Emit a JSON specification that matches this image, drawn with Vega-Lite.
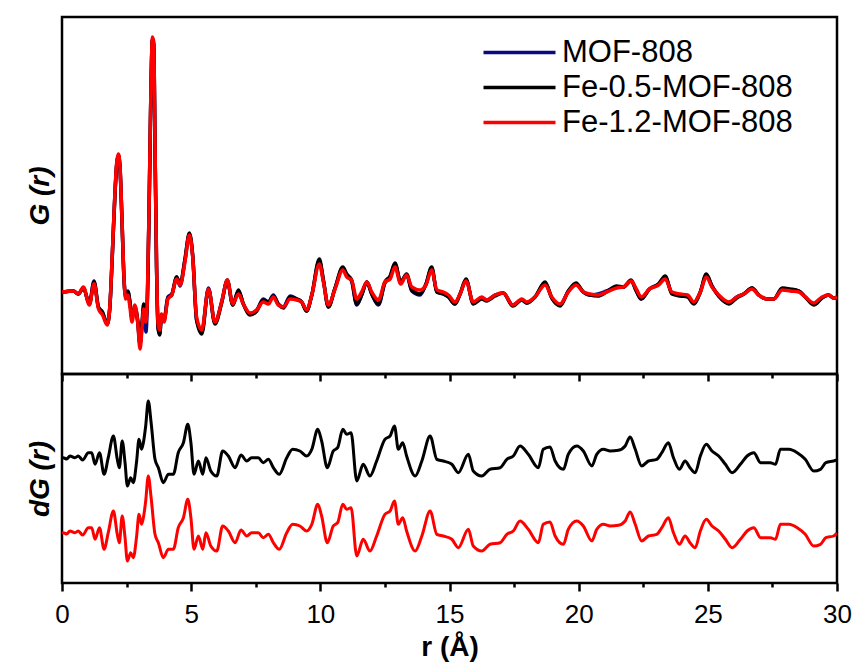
{
"$schema": "https://vega.github.io/schema/vega-lite/v6.json",
"autosize": {"type": "pad"},
"padding": {"left": 24, "top": 15, "right": 15, "bottom": 0},
"background": "white",
"spacing": 0,
"bounds": "flush",
"resolve": {"scale": {"color": "independent", "y": "independent"}},
"config": {
  "view": {"stroke": "black", "strokeWidth": 2.5},
  "font": "Liberation Sans",
  "axis": {"grid": false, "domain": false, "tickColor": "black", "tickWidth": 2.5, "labelColor": "black", "titleColor": "black", "labelFont": "Liberation Sans", "titleFont": "Liberation Sans"},
  "legend": {"labelFont": "Liberation Sans", "labelColor": "black"}
},
"datasets": {
"top": [
{"s":"MOF-808","r":0,"g":0},{"s":"MOF-808","r":0.2,"g":0.05},{"s":"MOF-808","r":0.44,"g":0.1},{"s":"MOF-808","r":0.63,"g":-0.2},{"s":"MOF-808","r":0.83,"g":0.4},{"s":"MOF-808","r":1.06,"g":-1.2},{"s":"MOF-808","r":1.24,"g":1.1},{"s":"MOF-808","r":1.41,"g":-1.5},{"s":"MOF-808","r":1.57,"g":-2.1},{"s":"MOF-808","r":1.75,"g":-3.2},{"s":"MOF-808","r":1.85,"g":-1.6},{"s":"MOF-808","r":1.95,"g":3.8},{"s":"MOF-808","r":2.05,"g":9.8},{"s":"MOF-808","r":2.12,"g":12.8},{"s":"MOF-808","r":2.18,"g":13.6},{"s":"MOF-808","r":2.24,"g":12.6},{"s":"MOF-808","r":2.32,"g":7.3},{"s":"MOF-808","r":2.4,"g":1.3},{"s":"MOF-808","r":2.46,"g":-0.3},{"s":"MOF-808","r":2.55,"g":0.1},{"s":"MOF-808","r":2.63,"g":-1.0},{"s":"MOF-808","r":2.71,"g":-2.6},{"s":"MOF-808","r":2.82,"g":-1.6},{"s":"MOF-808","r":2.93,"g":-3.0},{"s":"MOF-808","r":3.02,"g":-5.2},{"s":"MOF-808","r":3.1,"g":-3.2},{"s":"MOF-808","r":3.16,"g":-1.6},{"s":"MOF-808","r":3.25,"g":-4.0},{"s":"MOF-808","r":3.3,"g":-1.5},{"s":"MOF-808","r":3.38,"g":9.6},{"s":"MOF-808","r":3.44,"g":19.6},{"s":"MOF-808","r":3.5,"g":25.2},{"s":"MOF-808","r":3.55,"g":24.7},{"s":"MOF-808","r":3.6,"g":14.6},{"s":"MOF-808","r":3.66,"g":2.5},{"s":"MOF-808","r":3.72,"g":-3.6},{"s":"MOF-808","r":3.78,"g":-4.2},{"s":"MOF-808","r":3.85,"g":-2.5},{"s":"MOF-808","r":3.95,"g":-2.7},{"s":"MOF-808","r":4.1,"g":-0.5},{"s":"MOF-808","r":4.25,"g":-0.2},{"s":"MOF-808","r":4.44,"g":1.5},{"s":"MOF-808","r":4.57,"g":0.6},{"s":"MOF-808","r":4.76,"g":3.2},{"s":"MOF-808","r":4.93,"g":5.8},{"s":"MOF-808","r":5.06,"g":3.6},{"s":"MOF-808","r":5.21,"g":-2.8},{"s":"MOF-808","r":5.41,"g":-4.0},{"s":"MOF-808","r":5.67,"g":0.4},{"s":"MOF-808","r":5.92,"g":-3.1},{"s":"MOF-808","r":6.18,"g":-1.0},{"s":"MOF-808","r":6.4,"g":1.1},{"s":"MOF-808","r":6.61,"g":-1.3},{"s":"MOF-808","r":6.83,"g":0.1},{"s":"MOF-808","r":7.02,"g":-1.2},{"s":"MOF-808","r":7.28,"g":-2.2},{"s":"MOF-808","r":7.54,"g":-1.8},{"s":"MOF-808","r":7.79,"g":-0.7},{"s":"MOF-808","r":7.99,"g":-1.0},{"s":"MOF-808","r":8.18,"g":-0.3},{"s":"MOF-808","r":8.37,"g":-1.2},{"s":"MOF-808","r":8.57,"g":-1.5},{"s":"MOF-808","r":8.83,"g":-0.4},{"s":"MOF-808","r":9.09,"g":-0.7},{"s":"MOF-808","r":9.28,"g":-1.0},{"s":"MOF-808","r":9.47,"g":-1.9},{"s":"MOF-808","r":9.67,"g":-0.3},{"s":"MOF-808","r":9.96,"g":3.1},{"s":"MOF-808","r":10.12,"g":1.1},{"s":"MOF-808","r":10.31,"g":-1.5},{"s":"MOF-808","r":10.57,"g":0.4},{"s":"MOF-808","r":10.87,"g":2.4},{"s":"MOF-808","r":11.02,"g":1.7},{"s":"MOF-808","r":11.21,"g":1.1},{"s":"MOF-808","r":11.41,"g":-1.3},{"s":"MOF-808","r":11.6,"g":-0.3},{"s":"MOF-808","r":11.8,"g":1.0},{"s":"MOF-808","r":11.99,"g":-0.2},{"s":"MOF-808","r":12.25,"g":-1.3},{"s":"MOF-808","r":12.5,"g":0.9},{"s":"MOF-808","r":12.7,"g":1.5},{"s":"MOF-808","r":12.89,"g":2.8},{"s":"MOF-808","r":13.11,"g":1.0},{"s":"MOF-808","r":13.34,"g":1.7},{"s":"MOF-808","r":13.54,"g":0.1},{"s":"MOF-808","r":13.86,"g":-0.3},{"s":"MOF-808","r":14.09,"g":0.8},{"s":"MOF-808","r":14.31,"g":2.4},{"s":"MOF-808","r":14.51,"g":0.0},{"s":"MOF-808","r":14.76,"g":-0.2},{"s":"MOF-808","r":14.96,"g":-0.5},{"s":"MOF-808","r":15.21,"g":-1.2},{"s":"MOF-808","r":15.41,"g":-0.2},{"s":"MOF-808","r":15.64,"g":1.2},{"s":"MOF-808","r":15.92,"g":-1.1},{"s":"MOF-808","r":16.25,"g":-0.6},{"s":"MOF-808","r":16.44,"g":-0.8},{"s":"MOF-808","r":16.76,"g":-0.3},{"s":"MOF-808","r":17.08,"g":-0.1},{"s":"MOF-808","r":17.45,"g":-1.3},{"s":"MOF-808","r":17.8,"g":-0.8},{"s":"MOF-808","r":17.99,"g":-1.1},{"s":"MOF-808","r":18.31,"g":-0.5},{"s":"MOF-808","r":18.7,"g":0.9},{"s":"MOF-808","r":18.96,"g":-0.6},{"s":"MOF-808","r":19.28,"g":-1.3},{"s":"MOF-808","r":19.6,"g":0.1},{"s":"MOF-808","r":19.9,"g":0.8},{"s":"MOF-808","r":20.18,"g":0.0},{"s":"MOF-808","r":20.44,"g":-0.3},{"s":"MOF-808","r":20.75,"g":-0.2},{"s":"MOF-808","r":21.08,"g":0.1},{"s":"MOF-808","r":21.47,"g":0.5},{"s":"MOF-808","r":21.73,"g":0.5},{"s":"MOF-808","r":22.03,"g":1.1},{"s":"MOF-808","r":22.23,"g":0.1},{"s":"MOF-808","r":22.42,"g":-0.7},{"s":"MOF-808","r":22.74,"g":0.3},{"s":"MOF-808","r":23.09,"g":0.8},{"s":"MOF-808","r":23.35,"g":1.5},{"s":"MOF-808","r":23.61,"g":-0.1},{"s":"MOF-808","r":23.93,"g":-0.3},{"s":"MOF-808","r":24.22,"g":-0.4},{"s":"MOF-808","r":24.45,"g":-1.1},{"s":"MOF-808","r":24.71,"g":0.0},{"s":"MOF-808","r":24.94,"g":1.7},{"s":"MOF-808","r":25.16,"g":0.6},{"s":"MOF-808","r":25.42,"g":-0.4},{"s":"MOF-808","r":25.81,"g":-1.1},{"s":"MOF-808","r":26.12,"g":-0.5},{"s":"MOF-808","r":26.39,"g":-0.2},{"s":"MOF-808","r":26.71,"g":0.4},{"s":"MOF-808","r":26.97,"g":-0.3},{"s":"MOF-808","r":27.29,"g":-0.7},{"s":"MOF-808","r":27.55,"g":-0.7},{"s":"MOF-808","r":27.88,"g":0.3},{"s":"MOF-808","r":28.19,"g":0.2},{"s":"MOF-808","r":28.52,"g":0.1},{"s":"MOF-808","r":28.77,"g":-0.5},{"s":"MOF-808","r":29.1,"g":-1.2},{"s":"MOF-808","r":29.42,"g":-0.6},{"s":"MOF-808","r":29.67,"g":-0.3},{"s":"MOF-808","r":29.87,"g":-0.6},{"s":"MOF-808","r":30,"g":-0.5},

{"s":"Fe-0.5-MOF-808","r":0,"g":0},{"s":"Fe-0.5-MOF-808","r":0.2,"g":0.05},{"s":"Fe-0.5-MOF-808","r":0.44,"g":0.1},{"s":"Fe-0.5-MOF-808","r":0.63,"g":-0.2},{"s":"Fe-0.5-MOF-808","r":0.83,"g":0.4},{"s":"Fe-0.5-MOF-808","r":1.06,"g":-1.2},{"s":"Fe-0.5-MOF-808","r":1.24,"g":1.0},{"s":"Fe-0.5-MOF-808","r":1.41,"g":-1.5},{"s":"Fe-0.5-MOF-808","r":1.57,"g":-2.0},{"s":"Fe-0.5-MOF-808","r":1.75,"g":-3.2},{"s":"Fe-0.5-MOF-808","r":1.85,"g":-1.6},{"s":"Fe-0.5-MOF-808","r":1.95,"g":3.8},{"s":"Fe-0.5-MOF-808","r":2.05,"g":9.8},{"s":"Fe-0.5-MOF-808","r":2.12,"g":12.8},{"s":"Fe-0.5-MOF-808","r":2.18,"g":13.7},{"s":"Fe-0.5-MOF-808","r":2.24,"g":12.7},{"s":"Fe-0.5-MOF-808","r":2.32,"g":7.3},{"s":"Fe-0.5-MOF-808","r":2.4,"g":1.3},{"s":"Fe-0.5-MOF-808","r":2.46,"g":-0.5},{"s":"Fe-0.5-MOF-808","r":2.55,"g":0.0},{"s":"Fe-0.5-MOF-808","r":2.63,"g":-1.0},{"s":"Fe-0.5-MOF-808","r":2.71,"g":-2.6},{"s":"Fe-0.5-MOF-808","r":2.82,"g":-1.5},{"s":"Fe-0.5-MOF-808","r":2.93,"g":-2.8},{"s":"Fe-0.5-MOF-808","r":3.02,"g":-5.2},{"s":"Fe-0.5-MOF-808","r":3.1,"g":-3.0},{"s":"Fe-0.5-MOF-808","r":3.16,"g":-1.2},{"s":"Fe-0.5-MOF-808","r":3.25,"g":-2.5},{"s":"Fe-0.5-MOF-808","r":3.3,"g":-1.0},{"s":"Fe-0.5-MOF-808","r":3.38,"g":9.8},{"s":"Fe-0.5-MOF-808","r":3.44,"g":19.8},{"s":"Fe-0.5-MOF-808","r":3.5,"g":25.3},{"s":"Fe-0.5-MOF-808","r":3.55,"g":24.8},{"s":"Fe-0.5-MOF-808","r":3.6,"g":14.8},{"s":"Fe-0.5-MOF-808","r":3.66,"g":2.5},{"s":"Fe-0.5-MOF-808","r":3.72,"g":-3.6},{"s":"Fe-0.5-MOF-808","r":3.78,"g":-4.3},{"s":"Fe-0.5-MOF-808","r":3.85,"g":-2.6},{"s":"Fe-0.5-MOF-808","r":3.95,"g":-2.8},{"s":"Fe-0.5-MOF-808","r":4.1,"g":-0.6},{"s":"Fe-0.5-MOF-808","r":4.25,"g":-0.3},{"s":"Fe-0.5-MOF-808","r":4.44,"g":1.5},{"s":"Fe-0.5-MOF-808","r":4.57,"g":0.8},{"s":"Fe-0.5-MOF-808","r":4.76,"g":3.3},{"s":"Fe-0.5-MOF-808","r":4.93,"g":5.9},{"s":"Fe-0.5-MOF-808","r":5.06,"g":3.6},{"s":"Fe-0.5-MOF-808","r":5.21,"g":-2.8},{"s":"Fe-0.5-MOF-808","r":5.41,"g":-4.2},{"s":"Fe-0.5-MOF-808","r":5.67,"g":0.3},{"s":"Fe-0.5-MOF-808","r":5.92,"g":-3.2},{"s":"Fe-0.5-MOF-808","r":6.18,"g":-1.1},{"s":"Fe-0.5-MOF-808","r":6.4,"g":1.2},{"s":"Fe-0.5-MOF-808","r":6.61,"g":-1.3},{"s":"Fe-0.5-MOF-808","r":6.83,"g":0.2},{"s":"Fe-0.5-MOF-808","r":7.02,"g":-1.2},{"s":"Fe-0.5-MOF-808","r":7.28,"g":-2.3},{"s":"Fe-0.5-MOF-808","r":7.54,"g":-1.9},{"s":"Fe-0.5-MOF-808","r":7.79,"g":-0.8},{"s":"Fe-0.5-MOF-808","r":7.99,"g":-1.0},{"s":"Fe-0.5-MOF-808","r":8.18,"g":-0.4},{"s":"Fe-0.5-MOF-808","r":8.37,"g":-1.2},{"s":"Fe-0.5-MOF-808","r":8.57,"g":-1.6},{"s":"Fe-0.5-MOF-808","r":8.83,"g":-0.5},{"s":"Fe-0.5-MOF-808","r":9.09,"g":-0.7},{"s":"Fe-0.5-MOF-808","r":9.28,"g":-1.0},{"s":"Fe-0.5-MOF-808","r":9.47,"g":-1.9},{"s":"Fe-0.5-MOF-808","r":9.67,"g":-0.3},{"s":"Fe-0.5-MOF-808","r":9.96,"g":3.3},{"s":"Fe-0.5-MOF-808","r":10.12,"g":1.2},{"s":"Fe-0.5-MOF-808","r":10.31,"g":-1.5},{"s":"Fe-0.5-MOF-808","r":10.57,"g":0.4},{"s":"Fe-0.5-MOF-808","r":10.87,"g":2.5},{"s":"Fe-0.5-MOF-808","r":11.02,"g":1.8},{"s":"Fe-0.5-MOF-808","r":11.21,"g":1.2},{"s":"Fe-0.5-MOF-808","r":11.41,"g":-1.2},{"s":"Fe-0.5-MOF-808","r":11.6,"g":-0.3},{"s":"Fe-0.5-MOF-808","r":11.8,"g":1.0},{"s":"Fe-0.5-MOF-808","r":11.99,"g":-0.2},{"s":"Fe-0.5-MOF-808","r":12.25,"g":-1.2},{"s":"Fe-0.5-MOF-808","r":12.5,"g":1.0},{"s":"Fe-0.5-MOF-808","r":12.7,"g":1.6},{"s":"Fe-0.5-MOF-808","r":12.89,"g":2.9},{"s":"Fe-0.5-MOF-808","r":13.11,"g":1.0},{"s":"Fe-0.5-MOF-808","r":13.34,"g":1.8},{"s":"Fe-0.5-MOF-808","r":13.54,"g":0.2},{"s":"Fe-0.5-MOF-808","r":13.86,"g":-0.2},{"s":"Fe-0.5-MOF-808","r":14.09,"g":0.8},{"s":"Fe-0.5-MOF-808","r":14.31,"g":2.5},{"s":"Fe-0.5-MOF-808","r":14.51,"g":0.0},{"s":"Fe-0.5-MOF-808","r":14.76,"g":-0.2},{"s":"Fe-0.5-MOF-808","r":14.96,"g":-0.5},{"s":"Fe-0.5-MOF-808","r":15.21,"g":-1.2},{"s":"Fe-0.5-MOF-808","r":15.41,"g":-0.2},{"s":"Fe-0.5-MOF-808","r":15.64,"g":1.3},{"s":"Fe-0.5-MOF-808","r":15.92,"g":-1.2},{"s":"Fe-0.5-MOF-808","r":16.25,"g":-0.7},{"s":"Fe-0.5-MOF-808","r":16.44,"g":-0.9},{"s":"Fe-0.5-MOF-808","r":16.76,"g":-0.4},{"s":"Fe-0.5-MOF-808","r":17.08,"g":-0.1},{"s":"Fe-0.5-MOF-808","r":17.45,"g":-1.4},{"s":"Fe-0.5-MOF-808","r":17.8,"g":-0.8},{"s":"Fe-0.5-MOF-808","r":17.99,"g":-1.1},{"s":"Fe-0.5-MOF-808","r":18.31,"g":-0.5},{"s":"Fe-0.5-MOF-808","r":18.7,"g":1.0},{"s":"Fe-0.5-MOF-808","r":18.96,"g":-0.6},{"s":"Fe-0.5-MOF-808","r":19.28,"g":-1.4},{"s":"Fe-0.5-MOF-808","r":19.6,"g":0.1},{"s":"Fe-0.5-MOF-808","r":19.9,"g":0.9},{"s":"Fe-0.5-MOF-808","r":20.18,"g":0.0},{"s":"Fe-0.5-MOF-808","r":20.44,"g":-0.3},{"s":"Fe-0.5-MOF-808","r":20.75,"g":-0.4},{"s":"Fe-0.5-MOF-808","r":21.08,"g":0.0},{"s":"Fe-0.5-MOF-808","r":21.47,"g":0.6},{"s":"Fe-0.5-MOF-808","r":21.73,"g":0.5},{"s":"Fe-0.5-MOF-808","r":22.03,"g":1.2},{"s":"Fe-0.5-MOF-808","r":22.23,"g":0.1},{"s":"Fe-0.5-MOF-808","r":22.42,"g":-0.7},{"s":"Fe-0.5-MOF-808","r":22.74,"g":0.3},{"s":"Fe-0.5-MOF-808","r":23.09,"g":0.8},{"s":"Fe-0.5-MOF-808","r":23.35,"g":1.6},{"s":"Fe-0.5-MOF-808","r":23.61,"g":-0.2},{"s":"Fe-0.5-MOF-808","r":23.93,"g":-0.4},{"s":"Fe-0.5-MOF-808","r":24.22,"g":-0.5},{"s":"Fe-0.5-MOF-808","r":24.45,"g":-1.2},{"s":"Fe-0.5-MOF-808","r":24.71,"g":0.0},{"s":"Fe-0.5-MOF-808","r":24.94,"g":1.8},{"s":"Fe-0.5-MOF-808","r":25.16,"g":0.6},{"s":"Fe-0.5-MOF-808","r":25.42,"g":-0.4},{"s":"Fe-0.5-MOF-808","r":25.81,"g":-1.2},{"s":"Fe-0.5-MOF-808","r":26.12,"g":-0.6},{"s":"Fe-0.5-MOF-808","r":26.39,"g":-0.2},{"s":"Fe-0.5-MOF-808","r":26.71,"g":0.4},{"s":"Fe-0.5-MOF-808","r":26.97,"g":-0.3},{"s":"Fe-0.5-MOF-808","r":27.29,"g":-0.7},{"s":"Fe-0.5-MOF-808","r":27.55,"g":-0.7},{"s":"Fe-0.5-MOF-808","r":27.88,"g":0.4},{"s":"Fe-0.5-MOF-808","r":28.19,"g":0.3},{"s":"Fe-0.5-MOF-808","r":28.52,"g":0.1},{"s":"Fe-0.5-MOF-808","r":28.77,"g":-0.5},{"s":"Fe-0.5-MOF-808","r":29.1,"g":-1.3},{"s":"Fe-0.5-MOF-808","r":29.42,"g":-0.6},{"s":"Fe-0.5-MOF-808","r":29.67,"g":-0.3},{"s":"Fe-0.5-MOF-808","r":29.87,"g":-0.6},{"s":"Fe-0.5-MOF-808","r":30,"g":-0.5},

{"s":"Fe-1.2-MOF-808","r":0,"g":0},{"s":"Fe-1.2-MOF-808","r":0.2,"g":0.05},{"s":"Fe-1.2-MOF-808","r":0.44,"g":0.1},{"s":"Fe-1.2-MOF-808","r":0.63,"g":-0.17},{"s":"Fe-1.2-MOF-808","r":0.83,"g":0.5},{"s":"Fe-1.2-MOF-808","r":1.06,"g":-1.3},{"s":"Fe-1.2-MOF-808","r":1.24,"g":0.83},{"s":"Fe-1.2-MOF-808","r":1.41,"g":-1.67},{"s":"Fe-1.2-MOF-808","r":1.57,"g":-2.3},{"s":"Fe-1.2-MOF-808","r":1.75,"g":-3.3},{"s":"Fe-1.2-MOF-808","r":1.85,"g":-1.5},{"s":"Fe-1.2-MOF-808","r":1.95,"g":4.0},{"s":"Fe-1.2-MOF-808","r":2.05,"g":10.0},{"s":"Fe-1.2-MOF-808","r":2.12,"g":13.0},{"s":"Fe-1.2-MOF-808","r":2.18,"g":13.8},{"s":"Fe-1.2-MOF-808","r":2.24,"g":12.8},{"s":"Fe-1.2-MOF-808","r":2.32,"g":7.5},{"s":"Fe-1.2-MOF-808","r":2.4,"g":1.5},{"s":"Fe-1.2-MOF-808","r":2.46,"g":-0.7},{"s":"Fe-1.2-MOF-808","r":2.55,"g":-0.3},{"s":"Fe-1.2-MOF-808","r":2.63,"g":-1.5},{"s":"Fe-1.2-MOF-808","r":2.71,"g":-3.0},{"s":"Fe-1.2-MOF-808","r":2.82,"g":-1.3},{"s":"Fe-1.2-MOF-808","r":2.93,"g":-3.0},{"s":"Fe-1.2-MOF-808","r":3.02,"g":-5.7},{"s":"Fe-1.2-MOF-808","r":3.1,"g":-3.5},{"s":"Fe-1.2-MOF-808","r":3.16,"g":-1.7},{"s":"Fe-1.2-MOF-808","r":3.25,"g":-3.0},{"s":"Fe-1.2-MOF-808","r":3.3,"g":-1.0},{"s":"Fe-1.2-MOF-808","r":3.38,"g":10.0},{"s":"Fe-1.2-MOF-808","r":3.44,"g":20.0},{"s":"Fe-1.2-MOF-808","r":3.5,"g":25.5},{"s":"Fe-1.2-MOF-808","r":3.55,"g":25.0},{"s":"Fe-1.2-MOF-808","r":3.6,"g":15.0},{"s":"Fe-1.2-MOF-808","r":3.66,"g":3.0},{"s":"Fe-1.2-MOF-808","r":3.72,"g":-3.2},{"s":"Fe-1.2-MOF-808","r":3.78,"g":-3.8},{"s":"Fe-1.2-MOF-808","r":3.85,"g":-2.2},{"s":"Fe-1.2-MOF-808","r":3.95,"g":-3.0},{"s":"Fe-1.2-MOF-808","r":4.1,"g":-0.7},{"s":"Fe-1.2-MOF-808","r":4.25,"g":-0.3},{"s":"Fe-1.2-MOF-808","r":4.44,"g":1.3},{"s":"Fe-1.2-MOF-808","r":4.57,"g":0.7},{"s":"Fe-1.2-MOF-808","r":4.76,"g":3.0},{"s":"Fe-1.2-MOF-808","r":4.93,"g":5.7},{"s":"Fe-1.2-MOF-808","r":5.06,"g":3.5},{"s":"Fe-1.2-MOF-808","r":5.21,"g":-2.5},{"s":"Fe-1.2-MOF-808","r":5.41,"g":-3.8},{"s":"Fe-1.2-MOF-808","r":5.67,"g":0.3},{"s":"Fe-1.2-MOF-808","r":5.92,"g":-3.0},{"s":"Fe-1.2-MOF-808","r":6.18,"g":-1.0},{"s":"Fe-1.2-MOF-808","r":6.4,"g":1.2},{"s":"Fe-1.2-MOF-808","r":6.61,"g":-1.2},{"s":"Fe-1.2-MOF-808","r":6.83,"g":-0.2},{"s":"Fe-1.2-MOF-808","r":7.02,"g":-1.2},{"s":"Fe-1.2-MOF-808","r":7.28,"g":-2.1},{"s":"Fe-1.2-MOF-808","r":7.54,"g":-1.8},{"s":"Fe-1.2-MOF-808","r":7.79,"g":-1.0},{"s":"Fe-1.2-MOF-808","r":7.99,"g":-1.2},{"s":"Fe-1.2-MOF-808","r":8.18,"g":-0.5},{"s":"Fe-1.2-MOF-808","r":8.37,"g":-1.3},{"s":"Fe-1.2-MOF-808","r":8.57,"g":-1.5},{"s":"Fe-1.2-MOF-808","r":8.83,"g":-0.7},{"s":"Fe-1.2-MOF-808","r":9.09,"g":-0.8},{"s":"Fe-1.2-MOF-808","r":9.28,"g":-1.0},{"s":"Fe-1.2-MOF-808","r":9.47,"g":-1.8},{"s":"Fe-1.2-MOF-808","r":9.67,"g":-0.3},{"s":"Fe-1.2-MOF-808","r":9.96,"g":2.8},{"s":"Fe-1.2-MOF-808","r":10.12,"g":1.0},{"s":"Fe-1.2-MOF-808","r":10.31,"g":-1.3},{"s":"Fe-1.2-MOF-808","r":10.57,"g":0.3},{"s":"Fe-1.2-MOF-808","r":10.87,"g":2.2},{"s":"Fe-1.2-MOF-808","r":11.02,"g":1.5},{"s":"Fe-1.2-MOF-808","r":11.21,"g":1.2},{"s":"Fe-1.2-MOF-808","r":11.41,"g":-0.7},{"s":"Fe-1.2-MOF-808","r":11.6,"g":0.0},{"s":"Fe-1.2-MOF-808","r":11.8,"g":1.0},{"s":"Fe-1.2-MOF-808","r":11.99,"g":0.0},{"s":"Fe-1.2-MOF-808","r":12.25,"g":-0.8},{"s":"Fe-1.2-MOF-808","r":12.5,"g":1.0},{"s":"Fe-1.2-MOF-808","r":12.7,"g":1.3},{"s":"Fe-1.2-MOF-808","r":12.89,"g":2.5},{"s":"Fe-1.2-MOF-808","r":13.11,"g":0.8},{"s":"Fe-1.2-MOF-808","r":13.34,"g":1.7},{"s":"Fe-1.2-MOF-808","r":13.54,"g":0.5},{"s":"Fe-1.2-MOF-808","r":13.86,"g":0.2},{"s":"Fe-1.2-MOF-808","r":14.09,"g":0.7},{"s":"Fe-1.2-MOF-808","r":14.31,"g":2.2},{"s":"Fe-1.2-MOF-808","r":14.51,"g":0.2},{"s":"Fe-1.2-MOF-808","r":14.76,"g":0.0},{"s":"Fe-1.2-MOF-808","r":14.96,"g":-0.3},{"s":"Fe-1.2-MOF-808","r":15.21,"g":-1.0},{"s":"Fe-1.2-MOF-808","r":15.41,"g":-0.2},{"s":"Fe-1.2-MOF-808","r":15.64,"g":1.1},{"s":"Fe-1.2-MOF-808","r":15.92,"g":-1.0},{"s":"Fe-1.2-MOF-808","r":16.25,"g":-0.5},{"s":"Fe-1.2-MOF-808","r":16.44,"g":-0.8},{"s":"Fe-1.2-MOF-808","r":16.76,"g":-0.3},{"s":"Fe-1.2-MOF-808","r":17.08,"g":-0.1},{"s":"Fe-1.2-MOF-808","r":17.45,"g":-1.3},{"s":"Fe-1.2-MOF-808","r":17.8,"g":-0.7},{"s":"Fe-1.2-MOF-808","r":17.99,"g":-1.0},{"s":"Fe-1.2-MOF-808","r":18.31,"g":-0.5},{"s":"Fe-1.2-MOF-808","r":18.7,"g":0.7},{"s":"Fe-1.2-MOF-808","r":18.96,"g":-0.5},{"s":"Fe-1.2-MOF-808","r":19.28,"g":-1.2},{"s":"Fe-1.2-MOF-808","r":19.6,"g":0.0},{"s":"Fe-1.2-MOF-808","r":19.9,"g":0.7},{"s":"Fe-1.2-MOF-808","r":20.18,"g":0.0},{"s":"Fe-1.2-MOF-808","r":20.44,"g":-0.2},{"s":"Fe-1.2-MOF-808","r":20.75,"g":-0.3},{"s":"Fe-1.2-MOF-808","r":21.08,"g":0.0},{"s":"Fe-1.2-MOF-808","r":21.47,"g":0.4},{"s":"Fe-1.2-MOF-808","r":21.73,"g":0.5},{"s":"Fe-1.2-MOF-808","r":22.03,"g":1.1},{"s":"Fe-1.2-MOF-808","r":22.23,"g":0.3},{"s":"Fe-1.2-MOF-808","r":22.42,"g":-0.5},{"s":"Fe-1.2-MOF-808","r":22.74,"g":0.3},{"s":"Fe-1.2-MOF-808","r":23.09,"g":0.7},{"s":"Fe-1.2-MOF-808","r":23.35,"g":1.3},{"s":"Fe-1.2-MOF-808","r":23.61,"g":0.0},{"s":"Fe-1.2-MOF-808","r":23.93,"g":-0.2},{"s":"Fe-1.2-MOF-808","r":24.22,"g":-0.3},{"s":"Fe-1.2-MOF-808","r":24.45,"g":-1.0},{"s":"Fe-1.2-MOF-808","r":24.71,"g":0.0},{"s":"Fe-1.2-MOF-808","r":24.94,"g":1.5},{"s":"Fe-1.2-MOF-808","r":25.16,"g":0.5},{"s":"Fe-1.2-MOF-808","r":25.42,"g":-0.3},{"s":"Fe-1.2-MOF-808","r":25.81,"g":-1.0},{"s":"Fe-1.2-MOF-808","r":26.12,"g":-0.5},{"s":"Fe-1.2-MOF-808","r":26.39,"g":-0.2},{"s":"Fe-1.2-MOF-808","r":26.71,"g":0.3},{"s":"Fe-1.2-MOF-808","r":26.97,"g":-0.3},{"s":"Fe-1.2-MOF-808","r":27.29,"g":-0.7},{"s":"Fe-1.2-MOF-808","r":27.55,"g":-0.7},{"s":"Fe-1.2-MOF-808","r":27.88,"g":0.2},{"s":"Fe-1.2-MOF-808","r":28.19,"g":0.1},{"s":"Fe-1.2-MOF-808","r":28.52,"g":0.0},{"s":"Fe-1.2-MOF-808","r":28.77,"g":-0.5},{"s":"Fe-1.2-MOF-808","r":29.1,"g":-1.1},{"s":"Fe-1.2-MOF-808","r":29.42,"g":-0.5},{"s":"Fe-1.2-MOF-808","r":29.67,"g":-0.3},{"s":"Fe-1.2-MOF-808","r":29.87,"g":-0.6},{"s":"Fe-1.2-MOF-808","r":30,"g":-0.5}
],
"bottom": [
{"s":"Fe-0.5-MOF-808","r":0,"d":6.3},{"s":"Fe-0.5-MOF-808","r":0.05,"d":6.33},{"s":"Fe-0.5-MOF-808","r":0.18,"d":6.2},{"s":"Fe-0.5-MOF-808","r":0.31,"d":6.5},{"s":"Fe-0.5-MOF-808","r":0.5,"d":6.33},{"s":"Fe-0.5-MOF-808","r":0.63,"d":6.5},{"s":"Fe-0.5-MOF-808","r":0.8,"d":6.1},{"s":"Fe-0.5-MOF-808","r":1.02,"d":6.83},{"s":"Fe-0.5-MOF-808","r":1.15,"d":6.83},{"s":"Fe-0.5-MOF-808","r":1.28,"d":5.67},{"s":"Fe-0.5-MOF-808","r":1.45,"d":6.83},{"s":"Fe-0.5-MOF-808","r":1.63,"d":4.67},{"s":"Fe-0.5-MOF-808","r":1.79,"d":6.33},{"s":"Fe-0.5-MOF-808","r":1.99,"d":8.5},{"s":"Fe-0.5-MOF-808","r":2.14,"d":6.17},{"s":"Fe-0.5-MOF-808","r":2.22,"d":5.33},{"s":"Fe-0.5-MOF-808","r":2.33,"d":8.0},{"s":"Fe-0.5-MOF-808","r":2.44,"d":5.83},{"s":"Fe-0.5-MOF-808","r":2.53,"d":3.5},{"s":"Fe-0.5-MOF-808","r":2.66,"d":4.33},{"s":"Fe-0.5-MOF-808","r":2.76,"d":3.83},{"s":"Fe-0.5-MOF-808","r":2.89,"d":6.0},{"s":"Fe-0.5-MOF-808","r":2.98,"d":8.17},{"s":"Fe-0.5-MOF-808","r":3.08,"d":7.17},{"s":"Fe-0.5-MOF-808","r":3.15,"d":7.83},{"s":"Fe-0.5-MOF-808","r":3.24,"d":9.5},{"s":"Fe-0.5-MOF-808","r":3.34,"d":12.0},{"s":"Fe-0.5-MOF-808","r":3.45,"d":9.83},{"s":"Fe-0.5-MOF-808","r":3.6,"d":6.17},{"s":"Fe-0.5-MOF-808","r":3.73,"d":5.33},{"s":"Fe-0.5-MOF-808","r":3.92,"d":3.83},{"s":"Fe-0.5-MOF-808","r":4.12,"d":4.67},{"s":"Fe-0.5-MOF-808","r":4.31,"d":4.67},{"s":"Fe-0.5-MOF-808","r":4.5,"d":6.83},{"s":"Fe-0.5-MOF-808","r":4.7,"d":7.83},{"s":"Fe-0.5-MOF-808","r":4.87,"d":9.67},{"s":"Fe-0.5-MOF-808","r":4.99,"d":7.83},{"s":"Fe-0.5-MOF-808","r":5.11,"d":4.67},{"s":"Fe-0.5-MOF-808","r":5.28,"d":6.0},{"s":"Fe-0.5-MOF-808","r":5.45,"d":4.67},{"s":"Fe-0.5-MOF-808","r":5.57,"d":6.33},{"s":"Fe-0.5-MOF-808","r":5.76,"d":5.0},{"s":"Fe-0.5-MOF-808","r":5.99,"d":4.5},{"s":"Fe-0.5-MOF-808","r":6.22,"d":7.0},{"s":"Fe-0.5-MOF-808","r":6.44,"d":6.5},{"s":"Fe-0.5-MOF-808","r":6.7,"d":5.33},{"s":"Fe-0.5-MOF-808","r":6.93,"d":6.6},{"s":"Fe-0.5-MOF-808","r":7.15,"d":6.0},{"s":"Fe-0.5-MOF-808","r":7.34,"d":6.33},{"s":"Fe-0.5-MOF-808","r":7.6,"d":6.33},{"s":"Fe-0.5-MOF-808","r":7.79,"d":5.83},{"s":"Fe-0.5-MOF-808","r":7.99,"d":6.17},{"s":"Fe-0.5-MOF-808","r":8.18,"d":5.33},{"s":"Fe-0.5-MOF-808","r":8.41,"d":4.67},{"s":"Fe-0.5-MOF-808","r":8.7,"d":6.33},{"s":"Fe-0.5-MOF-808","r":8.93,"d":7.17},{"s":"Fe-0.5-MOF-808","r":9.21,"d":7.0},{"s":"Fe-0.5-MOF-808","r":9.47,"d":6.5},{"s":"Fe-0.5-MOF-808","r":9.67,"d":7.17},{"s":"Fe-0.5-MOF-808","r":9.9,"d":9.17},{"s":"Fe-0.5-MOF-808","r":10.05,"d":8.0},{"s":"Fe-0.5-MOF-808","r":10.27,"d":5.33},{"s":"Fe-0.5-MOF-808","r":10.5,"d":7.0},{"s":"Fe-0.5-MOF-808","r":10.67,"d":7.33},{"s":"Fe-0.5-MOF-808","r":10.87,"d":9.17},{"s":"Fe-0.5-MOF-808","r":11.02,"d":8.67},{"s":"Fe-0.5-MOF-808","r":11.19,"d":8.83},{"s":"Fe-0.5-MOF-808","r":11.41,"d":4.0},{"s":"Fe-0.5-MOF-808","r":11.66,"d":5.67},{"s":"Fe-0.5-MOF-808","r":11.92,"d":4.5},{"s":"Fe-0.5-MOF-808","r":12.18,"d":6.0},{"s":"Fe-0.5-MOF-808","r":12.5,"d":8.17},{"s":"Fe-0.5-MOF-808","r":12.7,"d":8.5},{"s":"Fe-0.5-MOF-808","r":12.87,"d":9.5},{"s":"Fe-0.5-MOF-808","r":13.02,"d":7.17},{"s":"Fe-0.5-MOF-808","r":13.19,"d":7.83},{"s":"Fe-0.5-MOF-808","r":13.34,"d":6.5},{"s":"Fe-0.5-MOF-808","r":13.67,"d":4.5},{"s":"Fe-0.5-MOF-808","r":13.93,"d":6.0},{"s":"Fe-0.5-MOF-808","r":14.25,"d":8.5},{"s":"Fe-0.5-MOF-808","r":14.51,"d":6.17},{"s":"Fe-0.5-MOF-808","r":14.76,"d":6.0},{"s":"Fe-0.5-MOF-808","r":15.09,"d":5.67},{"s":"Fe-0.5-MOF-808","r":15.34,"d":4.83},{"s":"Fe-0.5-MOF-808","r":15.73,"d":6.67},{"s":"Fe-0.5-MOF-808","r":15.92,"d":5.0},{"s":"Fe-0.5-MOF-808","r":16.25,"d":4.5},{"s":"Fe-0.5-MOF-808","r":16.57,"d":5.17},{"s":"Fe-0.5-MOF-808","r":16.96,"d":5.33},{"s":"Fe-0.5-MOF-808","r":17.22,"d":6.17},{"s":"Fe-0.5-MOF-808","r":17.47,"d":6.5},{"s":"Fe-0.5-MOF-808","r":17.73,"d":7.5},{"s":"Fe-0.5-MOF-808","r":18.05,"d":6.67},{"s":"Fe-0.5-MOF-808","r":18.44,"d":5.33},{"s":"Fe-0.5-MOF-808","r":18.63,"d":7.17},{"s":"Fe-0.5-MOF-808","r":18.89,"d":7.4},{"s":"Fe-0.5-MOF-808","r":19.09,"d":6.0},{"s":"Fe-0.5-MOF-808","r":19.41,"d":5.17},{"s":"Fe-0.5-MOF-808","r":19.6,"d":6.67},{"s":"Fe-0.5-MOF-808","r":19.93,"d":7.5},{"s":"Fe-0.5-MOF-808","r":20.18,"d":7.0},{"s":"Fe-0.5-MOF-808","r":20.51,"d":5.5},{"s":"Fe-0.5-MOF-808","r":20.7,"d":6.67},{"s":"Fe-0.5-MOF-808","r":20.96,"d":7.17},{"s":"Fe-0.5-MOF-808","r":21.22,"d":7.0},{"s":"Fe-0.5-MOF-808","r":21.54,"d":7.07},{"s":"Fe-0.5-MOF-808","r":21.8,"d":7.5},{"s":"Fe-0.5-MOF-808","r":21.99,"d":8.4},{"s":"Fe-0.5-MOF-808","r":22.19,"d":7.17},{"s":"Fe-0.5-MOF-808","r":22.44,"d":5.5},{"s":"Fe-0.5-MOF-808","r":22.7,"d":6.0},{"s":"Fe-0.5-MOF-808","r":23.02,"d":6.17},{"s":"Fe-0.5-MOF-808","r":23.22,"d":6.83},{"s":"Fe-0.5-MOF-808","r":23.47,"d":7.83},{"s":"Fe-0.5-MOF-808","r":23.67,"d":6.33},{"s":"Fe-0.5-MOF-808","r":23.9,"d":5.17},{"s":"Fe-0.5-MOF-808","r":24.12,"d":6.0},{"s":"Fe-0.5-MOF-808","r":24.31,"d":5.33},{"s":"Fe-0.5-MOF-808","r":24.51,"d":4.83},{"s":"Fe-0.5-MOF-808","r":24.71,"d":6.5},{"s":"Fe-0.5-MOF-808","r":24.94,"d":7.67},{"s":"Fe-0.5-MOF-808","r":25.16,"d":7.0},{"s":"Fe-0.5-MOF-808","r":25.42,"d":6.5},{"s":"Fe-0.5-MOF-808","r":25.68,"d":5.67},{"s":"Fe-0.5-MOF-808","r":25.94,"d":4.83},{"s":"Fe-0.5-MOF-808","r":26.26,"d":5.67},{"s":"Fe-0.5-MOF-808","r":26.52,"d":6.5},{"s":"Fe-0.5-MOF-808","r":26.78,"d":6.83},{"s":"Fe-0.5-MOF-808","r":27.04,"d":5.83},{"s":"Fe-0.5-MOF-808","r":27.42,"d":5.83},{"s":"Fe-0.5-MOF-808","r":27.62,"d":5.67},{"s":"Fe-0.5-MOF-808","r":27.81,"d":7.17},{"s":"Fe-0.5-MOF-808","r":28.14,"d":7.17},{"s":"Fe-0.5-MOF-808","r":28.46,"d":6.83},{"s":"Fe-0.5-MOF-808","r":28.77,"d":6.17},{"s":"Fe-0.5-MOF-808","r":29.1,"d":5.0},{"s":"Fe-0.5-MOF-808","r":29.36,"d":5.17},{"s":"Fe-0.5-MOF-808","r":29.57,"d":5.83},{"s":"Fe-0.5-MOF-808","r":29.87,"d":6.0},{"s":"Fe-0.5-MOF-808","r":30,"d":6.1},

{"s":"Fe-1.2-MOF-808","r":0,"d":-1.2},{"s":"Fe-1.2-MOF-808","r":0.05,"d":-1.17},{"s":"Fe-1.2-MOF-808","r":0.18,"d":-1.3},{"s":"Fe-1.2-MOF-808","r":0.31,"d":-1.0},{"s":"Fe-1.2-MOF-808","r":0.5,"d":-1.17},{"s":"Fe-1.2-MOF-808","r":0.63,"d":-1.0},{"s":"Fe-1.2-MOF-808","r":0.8,"d":-1.4},{"s":"Fe-1.2-MOF-808","r":1.02,"d":-0.67},{"s":"Fe-1.2-MOF-808","r":1.15,"d":-0.67},{"s":"Fe-1.2-MOF-808","r":1.28,"d":-1.83},{"s":"Fe-1.2-MOF-808","r":1.45,"d":-0.67},{"s":"Fe-1.2-MOF-808","r":1.63,"d":-2.83},{"s":"Fe-1.2-MOF-808","r":1.79,"d":-1.17},{"s":"Fe-1.2-MOF-808","r":1.99,"d":1.0},{"s":"Fe-1.2-MOF-808","r":2.14,"d":-1.33},{"s":"Fe-1.2-MOF-808","r":2.22,"d":-2.17},{"s":"Fe-1.2-MOF-808","r":2.33,"d":0.5},{"s":"Fe-1.2-MOF-808","r":2.44,"d":-1.67},{"s":"Fe-1.2-MOF-808","r":2.53,"d":-4.0},{"s":"Fe-1.2-MOF-808","r":2.66,"d":-3.17},{"s":"Fe-1.2-MOF-808","r":2.76,"d":-3.67},{"s":"Fe-1.2-MOF-808","r":2.89,"d":-1.5},{"s":"Fe-1.2-MOF-808","r":2.98,"d":0.67},{"s":"Fe-1.2-MOF-808","r":3.08,"d":-0.33},{"s":"Fe-1.2-MOF-808","r":3.15,"d":0.33},{"s":"Fe-1.2-MOF-808","r":3.24,"d":2.0},{"s":"Fe-1.2-MOF-808","r":3.34,"d":4.5},{"s":"Fe-1.2-MOF-808","r":3.45,"d":2.33},{"s":"Fe-1.2-MOF-808","r":3.6,"d":-1.33},{"s":"Fe-1.2-MOF-808","r":3.73,"d":-2.17},{"s":"Fe-1.2-MOF-808","r":3.92,"d":-3.67},{"s":"Fe-1.2-MOF-808","r":4.12,"d":-2.83},{"s":"Fe-1.2-MOF-808","r":4.31,"d":-2.83},{"s":"Fe-1.2-MOF-808","r":4.5,"d":-0.67},{"s":"Fe-1.2-MOF-808","r":4.7,"d":0.33},{"s":"Fe-1.2-MOF-808","r":4.87,"d":2.17},{"s":"Fe-1.2-MOF-808","r":4.99,"d":0.33},{"s":"Fe-1.2-MOF-808","r":5.11,"d":-2.83},{"s":"Fe-1.2-MOF-808","r":5.28,"d":-1.5},{"s":"Fe-1.2-MOF-808","r":5.45,"d":-2.83},{"s":"Fe-1.2-MOF-808","r":5.57,"d":-1.17},{"s":"Fe-1.2-MOF-808","r":5.76,"d":-2.5},{"s":"Fe-1.2-MOF-808","r":5.99,"d":-3.0},{"s":"Fe-1.2-MOF-808","r":6.22,"d":-0.5},{"s":"Fe-1.2-MOF-808","r":6.44,"d":-1.0},{"s":"Fe-1.2-MOF-808","r":6.7,"d":-2.17},{"s":"Fe-1.2-MOF-808","r":6.93,"d":-0.9},{"s":"Fe-1.2-MOF-808","r":7.15,"d":-1.5},{"s":"Fe-1.2-MOF-808","r":7.34,"d":-1.17},{"s":"Fe-1.2-MOF-808","r":7.6,"d":-1.17},{"s":"Fe-1.2-MOF-808","r":7.79,"d":-1.67},{"s":"Fe-1.2-MOF-808","r":7.99,"d":-1.33},{"s":"Fe-1.2-MOF-808","r":8.18,"d":-2.17},{"s":"Fe-1.2-MOF-808","r":8.41,"d":-2.83},{"s":"Fe-1.2-MOF-808","r":8.7,"d":-1.17},{"s":"Fe-1.2-MOF-808","r":8.93,"d":-0.33},{"s":"Fe-1.2-MOF-808","r":9.21,"d":-0.5},{"s":"Fe-1.2-MOF-808","r":9.47,"d":-1.0},{"s":"Fe-1.2-MOF-808","r":9.67,"d":-0.33},{"s":"Fe-1.2-MOF-808","r":9.9,"d":1.67},{"s":"Fe-1.2-MOF-808","r":10.05,"d":0.5},{"s":"Fe-1.2-MOF-808","r":10.27,"d":-2.17},{"s":"Fe-1.2-MOF-808","r":10.5,"d":-0.5},{"s":"Fe-1.2-MOF-808","r":10.67,"d":-0.17},{"s":"Fe-1.2-MOF-808","r":10.87,"d":1.67},{"s":"Fe-1.2-MOF-808","r":11.02,"d":1.17},{"s":"Fe-1.2-MOF-808","r":11.19,"d":1.33},{"s":"Fe-1.2-MOF-808","r":11.41,"d":-3.5},{"s":"Fe-1.2-MOF-808","r":11.66,"d":-1.83},{"s":"Fe-1.2-MOF-808","r":11.92,"d":-3.0},{"s":"Fe-1.2-MOF-808","r":12.18,"d":-1.5},{"s":"Fe-1.2-MOF-808","r":12.5,"d":0.67},{"s":"Fe-1.2-MOF-808","r":12.7,"d":1.0},{"s":"Fe-1.2-MOF-808","r":12.87,"d":2.0},{"s":"Fe-1.2-MOF-808","r":13.02,"d":-0.33},{"s":"Fe-1.2-MOF-808","r":13.19,"d":0.33},{"s":"Fe-1.2-MOF-808","r":13.34,"d":-1.0},{"s":"Fe-1.2-MOF-808","r":13.67,"d":-3.0},{"s":"Fe-1.2-MOF-808","r":13.93,"d":-1.5},{"s":"Fe-1.2-MOF-808","r":14.25,"d":1.0},{"s":"Fe-1.2-MOF-808","r":14.51,"d":-1.33},{"s":"Fe-1.2-MOF-808","r":14.76,"d":-1.5},{"s":"Fe-1.2-MOF-808","r":15.09,"d":-1.83},{"s":"Fe-1.2-MOF-808","r":15.34,"d":-2.67},{"s":"Fe-1.2-MOF-808","r":15.73,"d":-0.83},{"s":"Fe-1.2-MOF-808","r":15.92,"d":-2.5},{"s":"Fe-1.2-MOF-808","r":16.25,"d":-3.0},{"s":"Fe-1.2-MOF-808","r":16.57,"d":-2.33},{"s":"Fe-1.2-MOF-808","r":16.96,"d":-2.17},{"s":"Fe-1.2-MOF-808","r":17.22,"d":-1.33},{"s":"Fe-1.2-MOF-808","r":17.47,"d":-1.0},{"s":"Fe-1.2-MOF-808","r":17.73,"d":0.0},{"s":"Fe-1.2-MOF-808","r":18.05,"d":-0.83},{"s":"Fe-1.2-MOF-808","r":18.44,"d":-2.17},{"s":"Fe-1.2-MOF-808","r":18.63,"d":-0.33},{"s":"Fe-1.2-MOF-808","r":18.89,"d":-0.1},{"s":"Fe-1.2-MOF-808","r":19.09,"d":-1.5},{"s":"Fe-1.2-MOF-808","r":19.41,"d":-2.33},{"s":"Fe-1.2-MOF-808","r":19.6,"d":-0.83},{"s":"Fe-1.2-MOF-808","r":19.93,"d":0.0},{"s":"Fe-1.2-MOF-808","r":20.18,"d":-0.5},{"s":"Fe-1.2-MOF-808","r":20.51,"d":-2.0},{"s":"Fe-1.2-MOF-808","r":20.7,"d":-0.83},{"s":"Fe-1.2-MOF-808","r":20.96,"d":-0.33},{"s":"Fe-1.2-MOF-808","r":21.22,"d":-0.5},{"s":"Fe-1.2-MOF-808","r":21.54,"d":-0.43},{"s":"Fe-1.2-MOF-808","r":21.8,"d":0.0},{"s":"Fe-1.2-MOF-808","r":21.99,"d":0.9},{"s":"Fe-1.2-MOF-808","r":22.19,"d":-0.33},{"s":"Fe-1.2-MOF-808","r":22.44,"d":-2.0},{"s":"Fe-1.2-MOF-808","r":22.7,"d":-1.5},{"s":"Fe-1.2-MOF-808","r":23.02,"d":-1.33},{"s":"Fe-1.2-MOF-808","r":23.22,"d":-0.67},{"s":"Fe-1.2-MOF-808","r":23.47,"d":0.33},{"s":"Fe-1.2-MOF-808","r":23.67,"d":-1.17},{"s":"Fe-1.2-MOF-808","r":23.9,"d":-2.33},{"s":"Fe-1.2-MOF-808","r":24.12,"d":-1.5},{"s":"Fe-1.2-MOF-808","r":24.31,"d":-2.17},{"s":"Fe-1.2-MOF-808","r":24.51,"d":-2.67},{"s":"Fe-1.2-MOF-808","r":24.71,"d":-1.0},{"s":"Fe-1.2-MOF-808","r":24.94,"d":0.17},{"s":"Fe-1.2-MOF-808","r":25.16,"d":-0.5},{"s":"Fe-1.2-MOF-808","r":25.42,"d":-1.0},{"s":"Fe-1.2-MOF-808","r":25.68,"d":-1.83},{"s":"Fe-1.2-MOF-808","r":25.94,"d":-2.67},{"s":"Fe-1.2-MOF-808","r":26.26,"d":-1.83},{"s":"Fe-1.2-MOF-808","r":26.52,"d":-1.0},{"s":"Fe-1.2-MOF-808","r":26.78,"d":-0.67},{"s":"Fe-1.2-MOF-808","r":27.04,"d":-1.67},{"s":"Fe-1.2-MOF-808","r":27.42,"d":-1.67},{"s":"Fe-1.2-MOF-808","r":27.62,"d":-1.83},{"s":"Fe-1.2-MOF-808","r":27.81,"d":-0.33},{"s":"Fe-1.2-MOF-808","r":28.14,"d":-0.33},{"s":"Fe-1.2-MOF-808","r":28.46,"d":-0.67},{"s":"Fe-1.2-MOF-808","r":28.77,"d":-1.33},{"s":"Fe-1.2-MOF-808","r":29.1,"d":-2.5},{"s":"Fe-1.2-MOF-808","r":29.36,"d":-2.33},{"s":"Fe-1.2-MOF-808","r":29.57,"d":-1.67},{"s":"Fe-1.2-MOF-808","r":29.87,"d":-1.5},{"s":"Fe-1.2-MOF-808","r":30,"d":-1.2}
]
},
"vconcat": [
{
  "width": 775, "height": 357,
  "data": {"name": "top"},
  "resolve": {"axis": {"x": "independent"}},
  "layer": [
  {
  "mark": {"type": "line", "strokeWidth": 3.5, "interpolate": "monotone", "clip": true},
  "encoding": {
    "x": {"field": "r", "type": "quantitative", "scale": {"domain": [0, 30], "nice": false}, "axis": {"orient": "bottom", "title": null, "labels": false, "values": [0,5,10,15,20,25,30], "tickSize": 7}},
    "y": {"field": "g", "type": "quantitative", "scale": {"domain": [-8.2, 27.5], "nice": false, "zero": false}, "axis": {"title": "G (r)", "labels": false, "ticks": false, "titleFontSize": 28, "titleFontWeight": "bold", "titleFontStyle": "italic", "titlePadding": 8}},
    "color": {"field": "s", "type": "nominal", "scale": {"domain": ["MOF-808", "Fe-0.5-MOF-808", "Fe-1.2-MOF-808"], "range": ["#0a0a80", "#000000", "#ff0000"]},
      "legend": {"title": null, "orient": "none", "legendX": 442, "legendY": 20, "padding": 0, "symbolType": "M-3.6,0H3.6", "symbolSize": 400, "symbolStrokeWidth": 3.5, "labelFontSize": 31, "labelOffset": 27, "rowPadding": 3, "labelLimit": 500}}
  }
  },
  {
  "mark": {"type": "line", "opacity": 0},
  "encoding": {
    "x": {"field": "r", "type": "quantitative", "scale": {"domain": [0, 30], "nice": false}, "axis": {"orient": "bottom", "title": null, "labels": false, "values": [2.5,7.5,12.5,17.5,22.5,27.5], "tickSize": 4}},
    "y": {"field": "g", "type": "quantitative", "scale": {"domain": [-8.2, 27.5], "nice": false, "zero": false}, "axis": {"title": "G (r)", "labels": false, "ticks": false, "titleFontSize": 28, "titleFontWeight": "bold", "titleFontStyle": "italic", "titlePadding": 8}}
  }
  }
  ]
},
{
  "width": 775, "height": 209,
  "data": {"name": "bottom"},
  "resolve": {"axis": {"x": "independent"}},
  "layer": [
  {
  "mark": {"type": "line", "strokeWidth": 3, "interpolate": "monotone", "clip": true},
  "encoding": {
    "x": {"field": "r", "type": "quantitative", "scale": {"domain": [0, 30], "nice": false}, "axis": {"orient": "bottom", "title": "r (Å)", "values": [0,5,10,15,20,25,30], "tickSize": 8, "labelPadding": 10, "labelFontSize": 26, "labelFlush": false, "labelOverlap": false, "titleFontSize": 28, "titleFontWeight": "bold", "titlePadding": 6}},
    "y": {"field": "d", "type": "quantitative", "scale": {"domain": [-6.2, 14.7], "nice": false, "zero": false}, "axis": {"title": "dG (r)", "labels": false, "ticks": false, "titleFontSize": 28, "titleFontWeight": "bold", "titleFontStyle": "italic", "titlePadding": 8}},
    "color": {"field": "s", "type": "nominal", "scale": {"domain": ["Fe-0.5-MOF-808", "Fe-1.2-MOF-808"], "range": ["#000000", "#ff0000"]}, "legend": null}
  }
  },
  {
  "mark": {"type": "line", "opacity": 0},
  "encoding": {
    "x": {"field": "r", "type": "quantitative", "scale": {"domain": [0, 30], "nice": false}, "axis": {"orient": "bottom", "title": null, "labels": false, "values": [2.5,7.5,12.5,17.5,22.5,27.5], "tickSize": 4}},
    "y": {"field": "d", "type": "quantitative", "scale": {"domain": [-6.2, 14.7], "nice": false, "zero": false}, "axis": {"title": "dG (r)", "labels": false, "ticks": false, "titleFontSize": 28, "titleFontWeight": "bold", "titleFontStyle": "italic", "titlePadding": 8}}
  }
  }
  ]
}
]
}
